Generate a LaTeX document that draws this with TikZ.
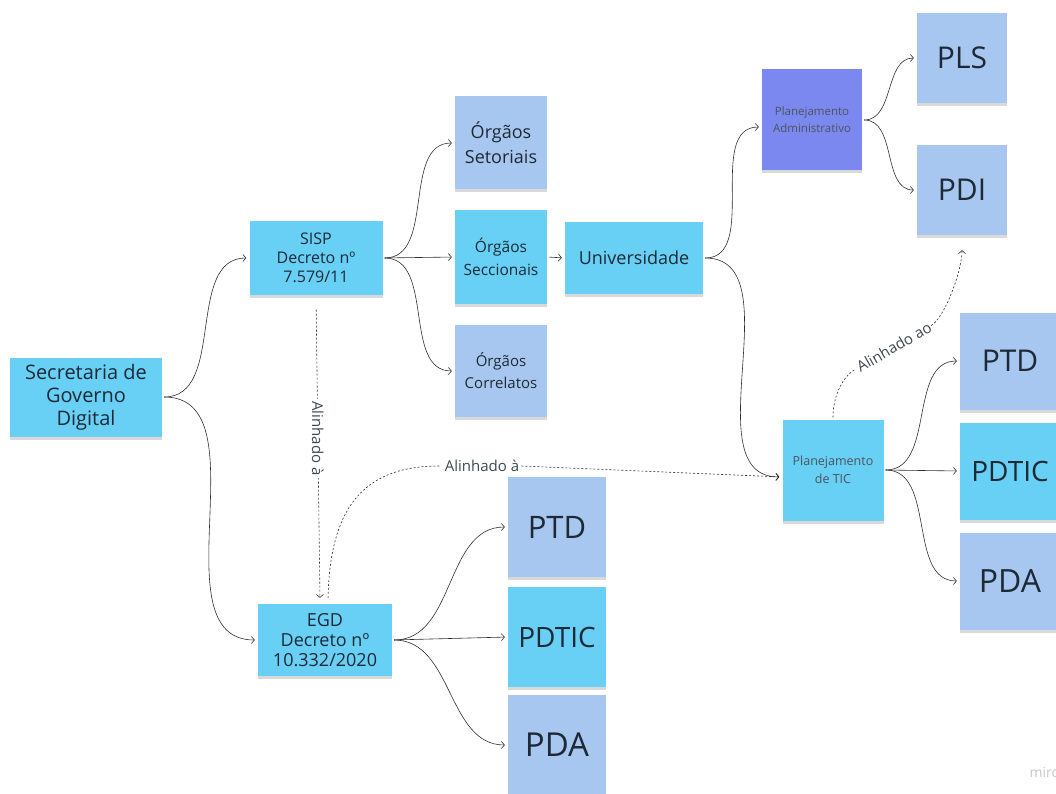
\documentclass[tikz,border=0pt]{standalone}
\usepackage{fontspec}
\setmainfont{Open Sans}
\usetikzlibrary{arrows.meta,shadows}

\definecolor{notecyan}{HTML}{68CFF5}
\definecolor{noteblue}{HTML}{A8C7F0}
\definecolor{notepurple}{HTML}{7B88EF}
\definecolor{inktext}{HTML}{1D2A36}
\definecolor{inkline}{HTML}{2E2E2E}

\tikzset{
  note/.style={draw=none, align=center, text=inktext, inner sep=2pt,
    drop shadow={shadow xshift=0pt, shadow yshift=-3pt, opacity=0.3}},
  cyannote/.style={note, fill=notecyan},
  bluenote/.style={note, fill=noteblue},
  purplenote/.style={note, fill=notepurple},
  link/.style={inkline, line width=0.6pt, shorten <=2pt, shorten >=3pt,
    -{Straight Barb[length=3pt,width=7pt]}},
  hint/.style={link, dash pattern=on 2pt off 2pt},
  hinttext/.style={font=\fontsize{15}{18}\selectfont, text=inktext!85, inner sep=2pt, fill=white},
}

\begin{document}
\begin{tikzpicture}[x=1pt, y=1pt]
   \clip (0,0) rectangle (1056,-794);

%Left column
   \node[cyannote, minimum width=152, minimum height=79, font=\fontsize{20}{23}\selectfont]
      at (86,-397) (sgd) {Secretaria de\\Governo\\Digital};
   \node[cyannote, minimum width=133, minimum height=73, font=\fontsize{16}{19}\selectfont]
      at (316,-258) (sisp) {SISP\\Decreto nº\\7.579/11};
   \node[cyannote, minimum width=134, minimum height=72, font=\fontsize{18}{20}\selectfont]
      at (325,-640) (egd) {EGD\\Decreto nº\\10.332/2020};

%Orgaos
   \node[bluenote, minimum width=92, minimum height=93, font=\fontsize{18}{25}\selectfont]
      at (501,-143) (setoriais) {Órgãos\\Setoriais};
   \node[cyannote, minimum width=92, minimum height=93, font=\fontsize{15.5}{23}\selectfont]
      at (501,-257) (seccionais) {Órgãos\\Seccionais};
   \node[bluenote, minimum width=92, minimum height=92, font=\fontsize{15}{22}\selectfont]
      at (501,-371) (correlatos) {Órgãos\\Correlatos};
   \node[cyannote, minimum width=138, minimum height=71, font=\fontsize{18}{22}\selectfont]
      at (634,-258) (univ) {Universidade};

%Planejamento
   \node[purplenote, minimum width=100, minimum height=101, text=inktext!80, font=\fontsize{11.5}{17}\selectfont]
      at (812,-120) (padm) {Planejamento\\Administrativo};
   \node[cyannote, minimum width=101, minimum height=101, text=inktext!80, font=\fontsize{12.5}{18}\selectfont]
      at (833,-470) (ptic) {Planejamento\\de TIC};

   \node[bluenote, minimum width=90, minimum height=90, font=\fontsize{30}{34}\selectfont]
      at (962,-58) (pls) {PLS};
   \node[bluenote, minimum width=90, minimum height=90, font=\fontsize{30}{34}\selectfont]
      at (962,-190) (pdi) {PDI};

   \node[bluenote, minimum width=100, minimum height=97, font=\fontsize{30}{34}\selectfont]
      at (1010,-361) (ptdr) {PTD};
   \node[cyannote, minimum width=100, minimum height=97, font=\fontsize{28}{32}\selectfont]
      at (1010,-471) (pdticr) {PDTIC};
   \node[bluenote, minimum width=100, minimum height=97, font=\fontsize{32}{36}\selectfont]
      at (1010,-581) (pdar) {PDA};

   \node[bluenote, minimum width=98, minimum height=100, font=\fontsize{31}{35}\selectfont]
      at (557,-527) (ptdb) {PTD};
   \node[cyannote, minimum width=98, minimum height=100, font=\fontsize{28}{32}\selectfont]
      at (557,-637) (pdticb) {PDTIC};
   \node[bluenote, minimum width=98, minimum height=100, font=\fontsize{33}{37}\selectfont]
      at (557,-745) (pdab) {PDA};

   \coordinate (ticin) at ([yshift=-7pt]ptic.west);

%Connectors
   \draw[link] (sgd.east) to[out=0, in=180] (sisp.west);
   \draw[link] (sgd.east) to[out=0, in=180] (egd.west);

   \draw[link] (sisp.east) to[out=0, in=180] (setoriais.west);
   \draw[link] (sisp.east) -- (seccionais.west);
   \draw[link] (sisp.east) to[out=0, in=180] (correlatos.west);
   \draw[link] (seccionais.east) -- (univ.west);

   \draw[link] (univ.east) to[out=0, in=180] ([yshift=-7pt]padm.west);
   \draw[link] (univ.east) to[out=0, in=180] (ticin);

   \draw[link] (padm.east) to[out=0, in=180] (pls.west);
   \draw[link] (padm.east) to[out=0, in=180] (pdi.west);

   \draw[link] (ptic.east) to[out=0, in=180] (ptdr.west);
   \draw[link] (ptic.east) -- (pdticr.west);
   \draw[link] (ptic.east) to[out=0, in=180] (pdar.west);

   \draw[link] (egd.east) to[out=0, in=180] (ptdb.west);
   \draw[link] (egd.east) -- (pdticb.west);
   \draw[link] (egd.east) to[out=0, in=180] (pdab.west);

%Alinhamentos
   \draw[hint, shorten <=15pt] (sisp.south) -- node[hinttext, pos=0.47, rotate=-90] (al1) {Alinhado à}
      ([xshift=-5pt, yshift=3pt]egd.north);
   \node[hinttext] at (482,-466) (al2) {Alinhado à};
   \draw[hint, -] ([xshift=3pt, yshift=4pt]egd.north) .. controls (330,-500) and (370,-466) .. (al2.west);
   \draw[hint, shorten <=0pt] (al2.east) -- (ticin);
   \node[hinttext, rotate=30, inner sep=1pt] at (894,-347) (al3) {Alinhado ao};
   \draw[hint, -] (ptic.north) .. controls +(0,26) and +(210:14) .. (al3.west);
   \draw[hint, shorten <=0pt, shorten >=15pt] (al3.east) .. controls +(30:16) and +(0,-35) .. (pdi.south);

   \node[text=black!22, font=\fontsize{14}{16}\selectfont, anchor=west] at (1026,-772) (miro) {miro};
\end{tikzpicture}
\end{document}
